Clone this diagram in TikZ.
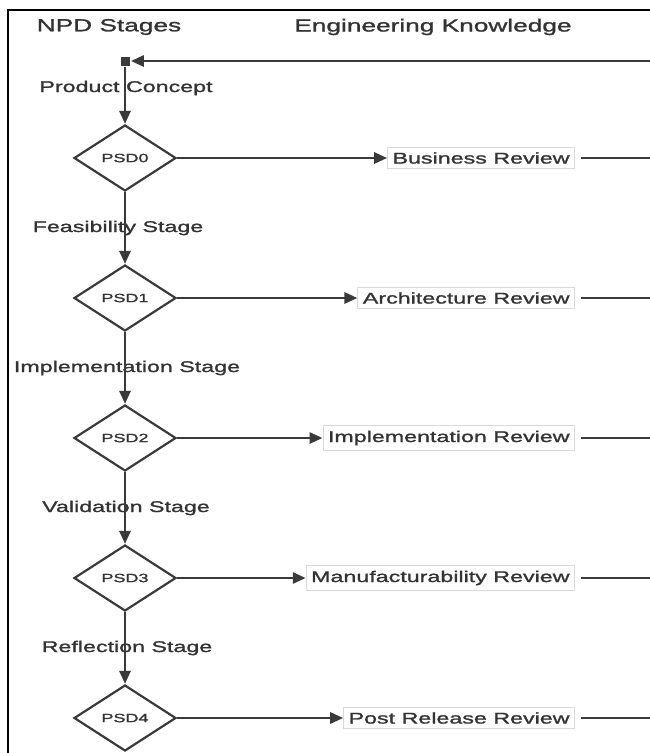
\documentclass[tikz,border=0pt]{standalone}
\usepackage{fontspec}
\setmainfont{Liberation Sans}[FakeStretch=1.5,FakeBold=1.4]
\usetikzlibrary{shapes.geometric,arrows.meta}
\definecolor{linegray}{HTML}{3A3A3A}
\definecolor{textgray}{HTML}{333333}

\begin{document}
\begin{tikzpicture}[x=1pt,y=-1pt,>={Triangle[length=13pt,width=11pt]},line width=2.8pt,
  decision/.style={diamond,draw=linegray,line width=2.2pt,minimum width=102pt,minimum height=66pt,inner sep=0pt,font=\fontsize{12}{14}\selectfont,text=textgray},
  review/.style={draw=black!15,line width=0.8pt,inner sep=5pt,anchor=east,font=\fontsize{15.5}{18}\selectfont,text=textgray},
  stagelabel/.style={font=\fontsize{15.5}{18}\selectfont,text=textgray},
  header/.style={font=\fontsize{17.5}{20}\selectfont,text=textgray}]
\useasboundingbox (0,0) rectangle (650,753);
\draw[line width=2.4pt] (8,753) -- (8,10) -- (650,10);
\node[header] (npd) at (109,27) {NPD Stages};
\node[header] (ek) at (433,27) {Engineering Knowledge};
\node[fill=linegray,minimum size=9pt,inner sep=0pt] (start) at (125,61) {};
\coordinate (back) at (650,61);
\draw[->,linegray] (back) -- (start);
% stages, gates and reviews
\foreach \i/\lx/\stage/\review in {0/126/Product Concept/Business Review,
    1/118/Feasibility Stage/Architecture Review,
    2/127/Implementation Stage/Implementation Review,
    3/126/Validation Stage/Manufacturability Review,
    4/127/Reflection Stage/Post Release Review} {
  \node[stagelabel] (stage\i) at (\lx,88+140*\i) {\stage};
  \node[decision] (psd\i) at (125,158+140*\i) {PSD\i};
  \node[review] (rev\i) at (575,158+140*\i) {\review};
  \coordinate (out\i) at (650,158+140*\i);
  \draw[->,linegray] (psd\i.east) -- (rev\i.west);
  \draw[linegray] ([xshift=6pt]rev\i.east) -- (out\i);
}
\draw[->,linegray] (start) -- (psd0);
\foreach \i/\j in {0/1,1/2,2/3,3/4}
  \draw[->,linegray] (psd\i) -- (psd\j);
\end{tikzpicture}
\end{document}
